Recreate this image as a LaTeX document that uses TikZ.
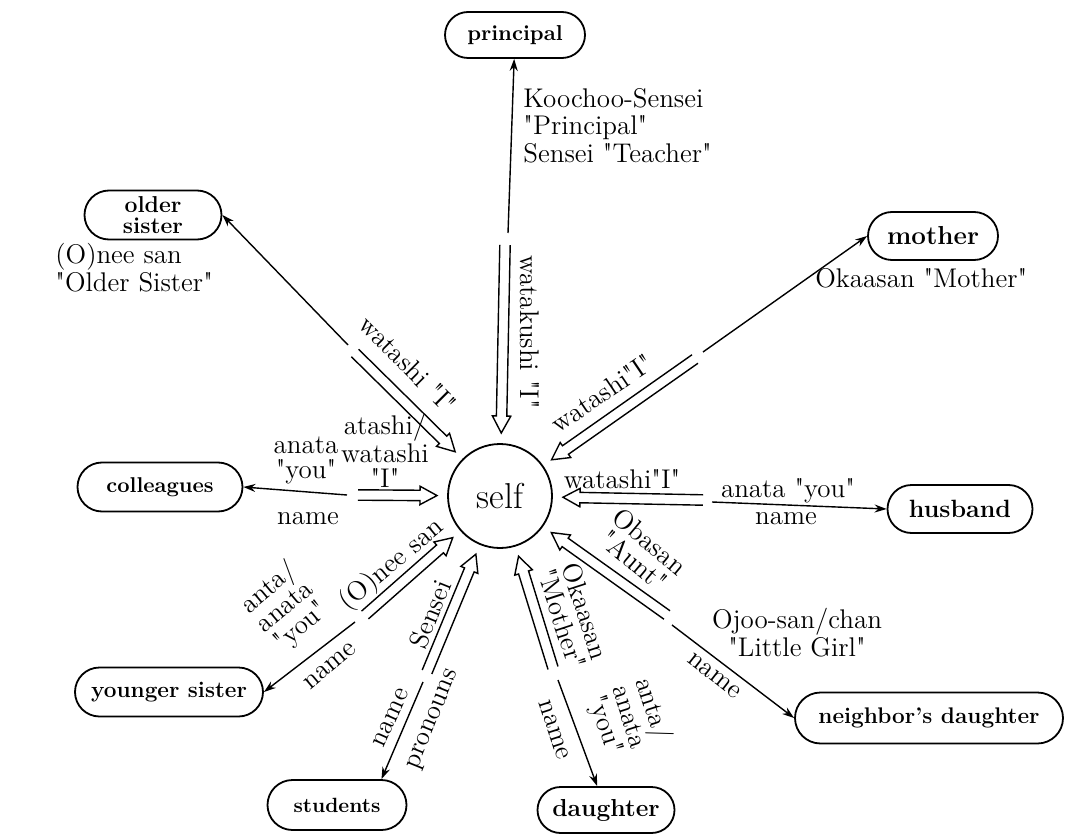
\documentclass[tikz,border=0pt]{standalone}
\usetikzlibrary{arrows.meta,calc,shapes.misc}
\newcommand\qq[1]{\textquotedbl#1\textquotedbl}
\begin{document}
\begin{tikzpicture}[x=0.5pt,y=-0.5pt,
  box/.style={draw, rounded rectangle, line width=0.9pt, inner sep=0pt},
  fs/.style={font=\bfseries\fontsize{#1}{#1}\selectfont},
  lbl/.style={font=\fontsize{13.5}{12.5}\selectfont, inner sep=1pt, align=center},
  thinarrow/.style={draw, line width=0.7pt, -{Stealth[length=6pt,width=4pt]}},
  hollow/.style={draw, line width=0.7pt, line join=miter, to path={
    ($(\tikztostart)!2.6pt!90:(\tikztotarget)$)
    -- ($(\tikztotarget)!8.5pt!(\tikztostart)!2.6pt!90:(\tikztotarget)$)
    -- ($(\tikztotarget)!8.5pt!(\tikztostart)!4.6pt!90:(\tikztotarget)$)
    -- (\tikztotarget)
    -- ($(\tikztotarget)!8.5pt!(\tikztostart)!4.6pt!-90:(\tikztotarget)$)
    -- ($(\tikztotarget)!8.5pt!(\tikztostart)!2.6pt!-90:(\tikztotarget)$)
    -- ($(\tikztostart)!2.6pt!-90:(\tikztotarget)$)
  }}
]
\useasboundingbox (0,0) rectangle (1065,834);

% central node and the people around it
\node[circle, draw, line width=0.9pt, minimum size=52pt, inner sep=0pt,
      font=\fontsize{18}{20}\selectfont] (self) at (500,496) {self};
\node[box, fs=10.8, minimum width=70pt, minimum height=23pt] (principal) at (515,35) {principal};
\node[box, font=\bfseries\fontsize{11.5}{10.5}\selectfont, align=center,
      minimum width=68.5pt, minimum height=24.5pt] (osister) at (153,215) {older\\sister};
\node[box, fs=13, minimum width=65pt, minimum height=24pt] (mother) at (933,236) {mother};
\node[box, fs=10.7, minimum width=82.5pt, minimum height=24.5pt] (colleagues) at (160,487) {colleagues};
\node[box, fs=12.5, minimum width=72.5pt, minimum height=24pt] (husband) at (960,509) {husband};
\node[box, fs=11.3, minimum width=94pt, minimum height=24.5pt] (ysister) at (169,692) {younger sister};
\node[box, fs=10.3, minimum width=69.5pt, minimum height=25pt] (students) at (337,805) {students};
\node[box, fs=12.3, minimum width=68.5pt, minimum height=23pt] (daughter) at (606,810) {daughter};
\node[box, fs=11.3, minimum width=134pt, minimum height=25.5pt] (ndaughter) at (929,718) {neighbor's daughter};

% split points: thin arrow starts (sa) and hollow arrow starts (sb)
\coordinate (sa1) at (508,233); \coordinate (sb1) at (505,245);
\coordinate (sa2) at (348,345); \coordinate (sb2) at (355,353);
\coordinate (sa3) at (703,352); \coordinate (sb3) at (695,359);
\coordinate (sa4) at (347,495); \coordinate (sb4) at (358,495);
\coordinate (sa5) at (712,502); \coordinate (sb5) at (703,500);
\coordinate (sa6) at (355,622); \coordinate (sb6) at (365,615);
\coordinate (sa7) at (423,682); \coordinate (sb7) at (427,672);
\coordinate (sa8) at (558,680); \coordinate (sb8) at (553,668);
\coordinate (sa9) at (672,625); \coordinate (sb9) at (667,615);

% hollow arrows pointing at self
\foreach \i in {1,...,9} {
  \coordinate (t\i) at ($(self.center)!31.5pt!(sb\i)$);
  \draw[hollow] (sb\i) to (t\i);
}

% thin arrows from self towards each person
\draw[thinarrow] (sa1) -- (principal);
\draw[thinarrow] (sa2) -- (osister.east);
\draw[thinarrow] (sa3) -- (mother.west);
\draw[thinarrow] (sa4) -- (colleagues.east);
\draw[thinarrow] (sa5) -- (husband.west);
\draw[thinarrow] (sa6) -- (ysister.east);
\draw[thinarrow] (sa7) -- (students.north east);
\draw[thinarrow] (sa8) -- (daughter);
\draw[thinarrow] (sa9) -- (ndaughter.west);

% terms of address and self reference
\node[lbl, rotate=-90] (l1) at (530,332) {watakushi \qq{I}};
\node[font=\fontsize{13.5}{13.75}\selectfont, align=left, anchor=north west, inner sep=0pt] (l1b) at (523,88)
  {Koochoo-Sensei\\\qq{Principal}\\Sensei \qq{Teacher}};

\node[lbl, rotate=-45] (l2) at (408,364) {watashi \qq{I}};
\node[font=\fontsize{13.5}{14}\selectfont, align=left, anchor=north west, inner sep=0pt] (l2b) at (55,243)
  {(O)nee san\\\qq{Older Sister}};

\node[lbl, rotate=34] (l3) at (602,393) {watashi\qq{I}};
\node[lbl, anchor=west, inner sep=0pt] (l3b) at (815,278) {Okaasan \qq{Mother}};

\node[lbl] (l4a) at (306,460) {anata\\\qq{you}};
\node[lbl] (l4b) at (385,451) {atashi/\\watashi\\\qq{I}};
\node[lbl] (l4c) at (308,519) {name};

\node[lbl] (l5a) at (622,479) {watashi\qq{I}};
\node[lbl] (l5b) at (788,491) {anata \qq{you}};
\node[lbl] (l5c) at (786,519) {name};

\node[lbl, rotate=40] (l6a) at (392,565) {(O)nee san};
\node[lbl, rotate=40] (l6b) at (285,607) {anta/\\anata\\\qq{you}};
\node[lbl, rotate=40] (l6c) at (330,666) {name};

\node[lbl, rotate=68] (l7a) at (430,614) {Sensei};
\node[lbl, rotate=66] (l7b) at (391,718) {name};
\node[lbl, rotate=68] (l7c) at (434,720) {pronouns};

\node[lbl, rotate=-72] (l8a) at (574,615) {Okaasan\\\qq{Mother}};
\node[lbl, rotate=-72] (l8b) at (629,717) {anta/\\anata\\\qq{you}};
\node[lbl, rotate=-72] (l8c) at (554,730) {name};

\node[lbl, rotate=-40] (l9a) at (642,551) {Obasan\\\qq{Aunt}};
\node[lbl, rotate=-38] (l9b) at (714,676) {name};
\node[lbl] (l9c) at (797,633) {Ojoo-san/chan\\\qq{Little Girl}};
\end{tikzpicture}
\end{document}
